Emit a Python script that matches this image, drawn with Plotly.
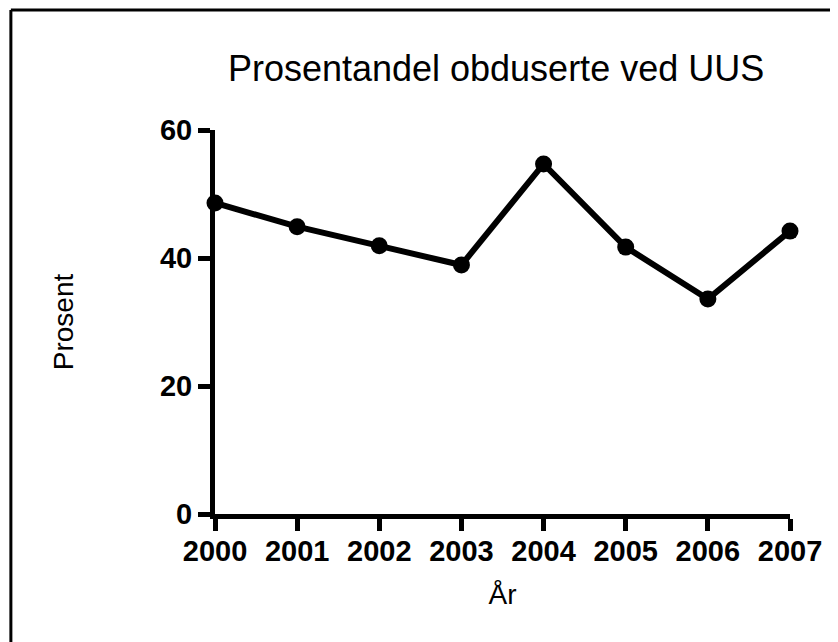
import plotly.graph_objects as go

# data
years = [2000, 2001, 2002, 2003, 2004, 2005, 2006, 2007]
prosent = [48.6, 44.9, 41.9, 38.9, 54.7, 41.7, 33.6, 44.2]
y_ticks = [0, 20, 40, 60]

fig = go.Figure()
fig.add_trace(go.Scatter(
    x=years,
    y=prosent,
    mode="lines+markers",
    line=dict(color="black", width=6),
    marker=dict(color="black", size=17),
    cliponaxis=False,
    showlegend=False
))

# figure border (only top and left edges show in the crop)
fig.add_shape(type="line", xref="paper", yref="paper",
              x0=-0.355, x1=1.2, y0=1.3125, y1=1.3125,
              line=dict(color="black", width=3))
fig.add_shape(type="line", xref="paper", yref="paper",
              x0=-0.355, x1=-0.355, y0=1.3125, y1=-0.5,
              line=dict(color="black", width=3))

# page body adds an 8px margin, so the figure is 8px smaller
fig.update_layout(
    width=830,
    height=634,
    margin=dict(l=207, r=48, t=122, b=128),
    paper_bgcolor="white",
    plot_bgcolor="white",
    font=dict(family="Liberation Sans, Arial, sans-serif", color="black"),
    title=dict(text="Prosentandel obduserte ved UUS",
               font=dict(size=36), x=0.588, xanchor="center",
               y=0.905, yanchor="middle"),
    xaxis=dict(
        range=[2000, 2007],
        tickvals=years,
        ticktext=[f"<b>{y}</b>" for y in years],
        tickfont=dict(size=29),
        showgrid=False, zeroline=False,
        showline=True, linecolor="black", linewidth=5,
        ticks="outside", ticklen=12, tickwidth=5, tickcolor="black",
        ticklabelstandoff=-5,
        title=dict(text="År", font=dict(size=28), standoff=20)
    ),
    yaxis=dict(
        range=[0, 60],
        tickvals=y_ticks,
        ticktext=[f"<b>{v}</b>" for v in y_ticks],
        tickfont=dict(size=29),
        showgrid=False, zeroline=False,
        showline=True, linecolor="black", linewidth=5,
        ticks="outside", ticklen=12, tickwidth=5, tickcolor="black",
        ticklabelstandoff=0,
        title=dict(text="Prosent", font=dict(size=28), standoff=80)
    )
)

fig.write_html("out.html")
